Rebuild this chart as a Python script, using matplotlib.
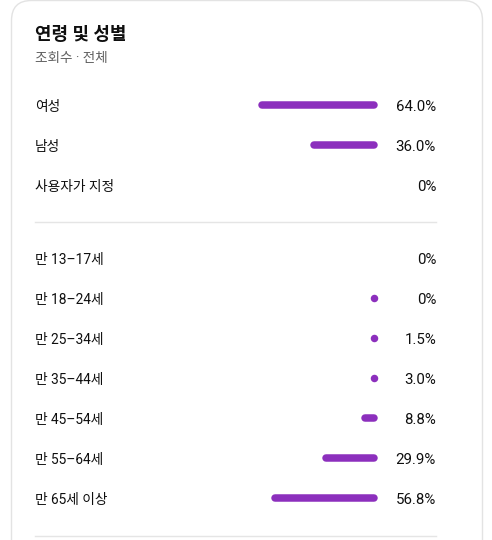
import matplotlib
matplotlib.use("Agg")
import matplotlib.pyplot as plt
from matplotlib.patches import FancyBboxPatch

plt.rcParams['font.family'] = ['Roboto', 'Noto Sans CJK KR', 'DejaVu Sans']

# Data
gender_labels = ["여성", "남성", "사용자가 지정"]
gender_values = [64.0, 36.0, 0.0]
gender_text = ["64.0%", "36.0%", "0%"]

age_labels = ["만 13–17세", "만 18–24세", "만 25–34세", "만 35–44세",
              "만 45–54세", "만 55–64세", "만 65세 이상"]
age_values = [0.0, 0.3, 1.5, 3.0, 8.8, 29.9, 56.8]
age_text = ["0%", "0%", "1.5%", "3.0%", "8.8%", "29.9%", "56.8%"]

W, H = 492, 540
fig = plt.figure(figsize=(W / 100, H / 100), dpi=100)
ax = fig.add_axes([0, 0, 1, 1])
ax.set_xlim(0, W)
ax.set_ylim(H, 0)
ax.axis("off")

# card
card = FancyBboxPatch((11.5, 0.5), 471, 600, boxstyle="round,pad=0,rounding_size=20",
                      facecolor="white", edgecolor="#e3e3e3", linewidth=1)
ax.add_patch(card)

ax.text(35, 35, "연령 및 성별", fontsize=12.9, fontweight="bold", color="#0f0f0f",
        va="center", ha="left")
ax.text(35, 58, "조회수 · 전체", fontsize=9.8, color="#606060", va="center", ha="left")

purple = "#8c2fbd"
bar_end = 378
px_per_pct = 1.875
lw_px = 7.5
lw_pt = lw_px * 72 / 100


def draw_rows(labels, values, texts, y0):
    for i, (lab, v, t) in enumerate(zip(labels, values, texts)):
        y = y0 + i * 40
        ax.text(35, y + 2, lab, fontsize=9.9, color="#0f0f0f", va="center", ha="left")
        ax.text(436, y + 2, t, fontsize=10.8, color="#0f0f0f", va="center", ha="right")
        if v <= 0:
            continue
        length = v * px_per_pct - lw_px
        x1 = bar_end - lw_px / 2
        if length > 0.5:
            ax.plot([x1 - length, x1], [y, y], color=purple, linewidth=lw_pt,
                    solid_capstyle="round")
        else:
            ax.scatter([x1], [y], s=lw_pt ** 2, color=purple, linewidths=0)


draw_rows(gender_labels, gender_values, gender_text, 105)
ax.plot([35, 436], [222, 222], color="#e5e5e5", linewidth=1)
draw_rows(age_labels, age_values, age_text, 258)
ax.plot([35, 436], [536, 536], color="#e5e5e5", linewidth=1)

fig.savefig("out.png", dpi=100)
